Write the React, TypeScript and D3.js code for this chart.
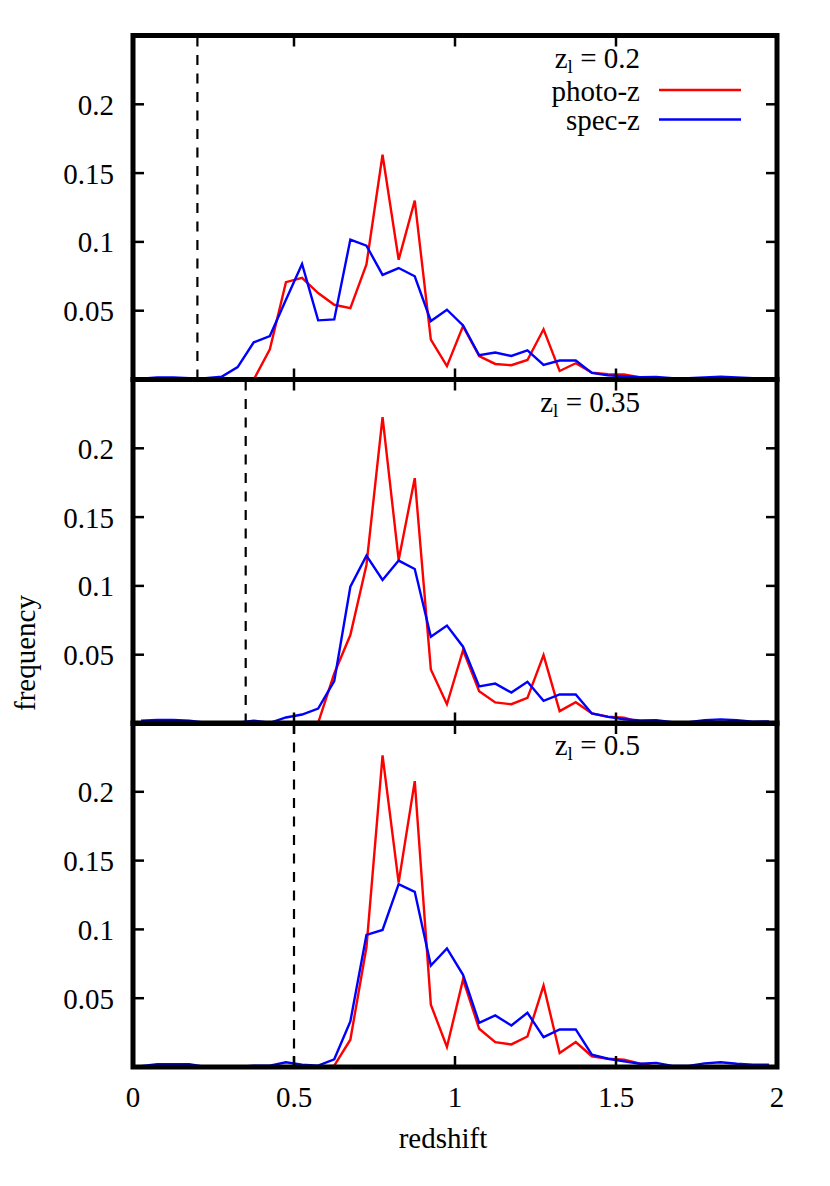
import React from "react";
import * as d3 from "d3";

const redshiftBins = [
  0.025, 0.075, 0.125, 0.175, 0.225, 0.275, 0.325, 0.375, 0.425, 0.475,
  0.525, 0.575, 0.625, 0.675, 0.725, 0.775, 0.825, 0.875, 0.925, 0.975,
  1.025, 1.075, 1.125, 1.175, 1.225, 1.275, 1.325, 1.375, 1.425, 1.475,
  1.525, 1.575, 1.625, 1.675, 1.725, 1.775, 1.825, 1.875, 1.925, 1.975,
];

const lensRedshifts = [0.2, 0.35, 0.5];
const lensLabels = ["0.2", "0.35", "0.5"];

const photoZ_02 = [
  0, 0, 0, 0, 0, 0, 0, 0, 0.022, 0.0707,
  0.0739, 0.0628, 0.0543, 0.0519, 0.0836, 0.1633, 0.087, 0.13, 0.029, 0.0097,
  0.0388, 0.017, 0.0113, 0.0104, 0.0142, 0.0365, 0.0062, 0.0118, 0.005, 0.0038,
  0.0036, 0.0015, 0, 0, 0, 0, 0, 0, 0, 0,
];
const specZ_02 = [
  0.0005, 0.0015, 0.0015, 0.001, 0.001, 0.002, 0.009, 0.027, 0.0316, 0.058,
  0.084, 0.043, 0.0437, 0.1017, 0.0973, 0.076, 0.081, 0.075, 0.0425, 0.0507,
  0.0393, 0.0176, 0.0196, 0.0171, 0.0212, 0.0106, 0.0138, 0.0138, 0.0048, 0.003,
  0.0024, 0.0017, 0.0019, 0.001, 0.001, 0.0015, 0.002, 0.0015, 0.001, 0.001,
];
const photoZ_035 = [
  0, 0, 0, 0, 0, 0, 0, 0, 0, 0,
  0, 0.0005, 0.0364, 0.0643, 0.1152, 0.2227, 0.1189, 0.1783, 0.0393, 0.014,
  0.0533, 0.0235, 0.0153, 0.014, 0.0186, 0.0497, 0.009, 0.0155, 0.0073, 0.005,
  0.0042, 0.001, 0, 0, 0, 0, 0, 0, 0, 0,
];
const specZ_035 = [
  0.002, 0.0025, 0.0025, 0.002, 0.0005, 0.0005, 0.0005, 0.002, 0.0005, 0.0044,
  0.0065, 0.0109, 0.0308, 0.0994, 0.122, 0.1043, 0.1184, 0.1123, 0.063, 0.0712,
  0.0558, 0.0269, 0.029, 0.0225, 0.0303, 0.0165, 0.0211, 0.0211, 0.0073, 0.0048,
  0.0031, 0.0022, 0.0024, 0.001, 0.001, 0.0024, 0.003, 0.0024, 0.0013, 0.0015,
];
const photoZ_05 = [
  0, 0, 0, 0, 0, 0, 0, 0, 0, 0,
  0, 0, 0.001, 0.0198, 0.087, 0.2264, 0.134, 0.2078, 0.0453, 0.0145,
  0.0636, 0.0278, 0.0181, 0.0164, 0.0222, 0.0592, 0.0101, 0.0181, 0.0078, 0.006,
  0.0053, 0.0024, 0, 0, 0, 0, 0, 0, 0, 0,
];
const specZ_05 = [
  0.0005, 0.002, 0.002, 0.002, 0, 0, 0, 0.001, 0.001, 0.0034,
  0.0017, 0.001, 0.0056, 0.0331, 0.096, 0.0996, 0.1329, 0.1273, 0.0737, 0.0862,
  0.067, 0.0321, 0.0375, 0.0302, 0.0394, 0.0217, 0.0273, 0.0273, 0.009, 0.006,
  0.0041, 0.0024, 0.003, 0.0007, 0.0007, 0.0026, 0.0034, 0.0024, 0.0017, 0.0017,
];

const photoSeries = [photoZ_02, photoZ_035, photoZ_05];
const specSeries = [specZ_02, specZ_035, specZ_05];

const xTicks = [0, 0.5, 1, 1.5, 2];
const xTickLabels = ["0", "0.5", "1", "1.5", "2"];
const yTicks = [0.05, 0.1, 0.15, 0.2];
const yTickLabels = ["0.05", "0.1", "0.15", "0.2"];

const W = 830;
const H = 1186;
const left = 133;
const right = 777;
const panelTops = [35.5, 379.5, 723];
const panelH = 344;
const FONT = "'Liberation Serif', 'Times New Roman', Times, serif";
const FS = 29;

export default function App() {
  const x = d3.scaleLinear().domain([0, 2]).range([left, right]);

  return (
    <svg
      width={W}
      height={H}
      style={{ position: "absolute", left: 0, top: 0, background: "#fff" }}
      fontFamily={FONT}
    >
      <defs>
        {panelTops.map((t, i) => (
          <clipPath id={`clip${i}`} key={i}>
            <rect x={left} y={t} width={right - left} height={panelH} />
          </clipPath>
        ))}
      </defs>
      {panelTops.map((top, i) => {
        const bottom = top + panelH;
        const y = d3.scaleLinear().domain([0, 0.25]).range([bottom, top]);
        const line = d3
          .line<number>()
          .x((_, k) => x(redshiftBins[k]))
          .y((v) => y(v));
        const tl = 11;
        return (
          <g key={i}>
            <g clipPath={`url(#clip${i})`}>
              <line
                x1={x(lensRedshifts[i])}
                x2={x(lensRedshifts[i])}
                y1={bottom}
                y2={top}
                stroke="#000"
                strokeWidth={2.2}
                strokeDasharray="10,8.5"
              />
              <path d={line(photoSeries[i]) || ""} fill="none" stroke="#ff0000" strokeWidth={2.4} strokeLinejoin="miter" />
              <path d={line(specSeries[i]) || ""} fill="none" stroke="#0000ff" strokeWidth={2.4} strokeLinejoin="miter" />
            </g>
            {xTicks.slice(1, -1).map((t) => (
              <g key={"xt" + t}>
                <line x1={x(t)} x2={x(t)} y1={bottom} y2={bottom - tl} stroke="#000" strokeWidth={2.5} />
                <line x1={x(t)} x2={x(t)} y1={top} y2={top + tl} stroke="#000" strokeWidth={2.5} />
              </g>
            ))}
            {yTicks.map((t, j) => (
              <g key={"yt" + t}>
                <line x1={left} x2={left + tl} y1={y(t)} y2={y(t)} stroke="#000" strokeWidth={2.5} />
                <line x1={right} x2={right - tl} y1={y(t)} y2={y(t)} stroke="#000" strokeWidth={2.5} />
                <text x={114} y={y(t) + 10.5} fontSize={FS} textAnchor="end" fill="#000">
                  {yTickLabels[j]}
                </text>
              </g>
            ))}
            <rect x={left} y={top} width={right - left} height={panelH} fill="none" stroke="#000" strokeWidth={5} />
            <text x={640} y={top + 32} fontSize={FS} textAnchor="end" fill="#000">
              z
              <tspan fontSize={19} dy={5}>l</tspan>
              <tspan dy={-5}>{" = " + lensLabels[i]}</tspan>
            </text>
            {i === 0 && (
              <g>
                <text x={640} y={100.5} fontSize={FS} textAnchor="end" fill="#000">photo-z</text>
                <line x1={659} x2={741} y1={90} y2={90} stroke="#ff0000" strokeWidth={2.4} />
                <text x={640} y={129.5} fontSize={FS} textAnchor="end" fill="#000">spec-z</text>
                <line x1={659} x2={741} y1={119.5} y2={119.5} stroke="#0000ff" strokeWidth={2.4} />
              </g>
            )}
          </g>
        );
      })}
      {xTicks.map((t, j) => (
        <text key={"xl" + t} x={x(t)} y={1106.5} fontSize={FS} textAnchor="middle" fill="#000">
          {xTickLabels[j]}
        </text>
      ))}
      <text x={x(1) - 12} y={1148} fontSize={FS} textAnchor="middle" fill="#000">redshift</text>
      <text
        transform={`translate(35, 653) rotate(-90)`}
        fontSize={FS}
        textAnchor="middle"
        fill="#000"
      >
        frequency
      </text>
    </svg>
  );
}
